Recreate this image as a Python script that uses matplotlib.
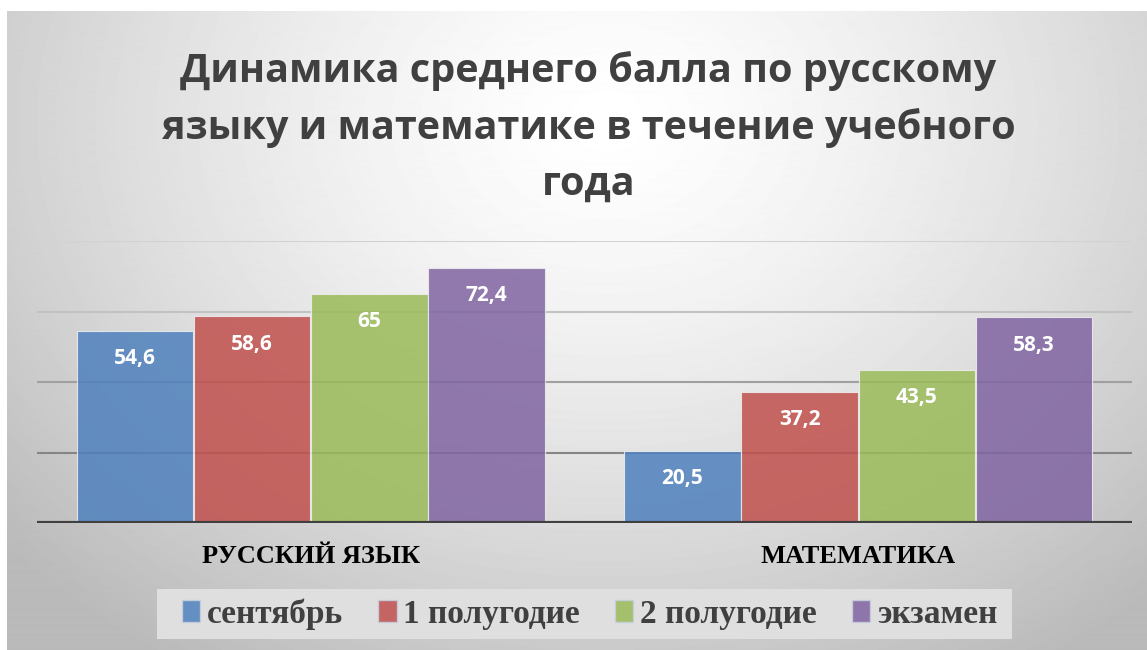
import numpy as np
import matplotlib.pyplot as plt
from matplotlib.patches import Patch, Rectangle

categories = ['РУССКИЙ ЯЗЫК', 'МАТЕМАТИКА']
series = ['сентябрь', '1 полугодие', '2 полугодие', 'экзамен']
values = {
    'сентябрь': [54.6, 20.5],
    '1 полугодие': [58.6, 37.2],
    '2 полугодие': [65, 43.5],
    'экзамен': [72.4, 58.3],
}
labels = {
    'сентябрь': ['54,6', '20,5'],
    '1 полугодие': ['58,6', '37,2'],
    '2 полугодие': ['65', '43,5'],
    'экзамен': ['72,4', '58,3'],
}
colors = ['#4f81bd', '#c0504d', '#9bbb59', '#8064a2']
title = 'Динамика среднего балла по русскому\nязыку и математике в течение учебного\nгода'

W, H = 1147, 650
fig = plt.figure(figsize=(W / 100, H / 100), dpi=100)

# radial grey background of the chart area
bg = fig.add_axes([7 / W, 0, 1 - 7 / W, 1 - 11 / H])
yy, xx = np.mgrid[0:640, 0:1140]
r = np.sqrt(((xx - 600) / 800.0) ** 2 + ((yy - 110) / 640.0) ** 2)
shade = 1.0 - 0.27 * np.clip(r, 0, 1) ** 1.4
bg.imshow(shade, cmap='gray', vmin=0, vmax=1, aspect='auto',
          extent=[0, 1, 0, 1], origin='upper')
bg.axis('off')

ax = fig.add_axes([37 / W, 127 / H, (1132 - 37) / W, (523 - 241) / H])
ax.patch.set_alpha(0)
x = np.arange(len(categories))
bw = 0.214
grid_cols = {20: '#858585', 40: '#a0a0a0', 60: '#c2c2c2', 80: '#d2d2d2'}
for g, c in grid_cols.items():
    ax.axhline(g, color=c, lw=1.5, zorder=1)

for i, s in enumerate(series):
    xs = x + (i - 1.5) * bw
    bars = ax.bar(xs, values[s], bw * 0.995, color=colors[i], alpha=0.85,
                  edgecolor='#eeeeee', linewidth=0.8, zorder=2)
    for b, lab in zip(bars, labels[s]):
        ax.annotate(lab, (b.get_x() + b.get_width() / 2, b.get_height()),
                    xytext=(0, -20), textcoords='offset points',
                    ha='center', va='center', color='white',
                    fontsize=15, fontweight='bold', family='Open Sans', zorder=3)

ax.axhline(0, color='#404040', lw=3, zorder=4)
ax.set_xlim(-0.5, 1.5)
ax.set_ylim(0, 80)
ax.set_yticks([])
ax.set_xticks(x)
ax.set_xticklabels(categories, family='Liberation Serif', fontweight='bold',
                   fontsize=19, color='black')
ax.tick_params(axis='x', length=0, pad=16)
for sp in ax.spines.values():
    sp.set_visible(False)

fig.text(0.513, 1 - 127 / H, title, ha='center', va='center',
         fontsize=28.5, fontweight='bold', family='Open Sans', color='#404040',
         linespacing=1.55)

# legend box
fig.patches.append(Rectangle((157 / W, 1 - 639 / H), (1012 - 157) / W, 50 / H,
                             transform=fig.transFigure, facecolor='#dfdfdf',
                             edgecolor='none', zorder=0))
handles = [Patch(facecolor=c, edgecolor='#c8d0e0', alpha=0.85) for c in colors]
leg = fig.legend(handles, series, loc='center', ncol=4,
                 bbox_to_anchor=((195 + 984) / 2 / W, 1 - 614 / H),
                 prop={'family': 'Liberation Serif', 'weight': 'bold', 'size': 24},
                 frameon=False, handlelength=0.55, handleheight=0.62,
                 handletextpad=0.2, columnspacing=1.05, borderpad=0,
                 borderaxespad=0)
for t in leg.get_texts():
    t.set_color('#404040')

fig.savefig('out.png', dpi=100, facecolor='white')
